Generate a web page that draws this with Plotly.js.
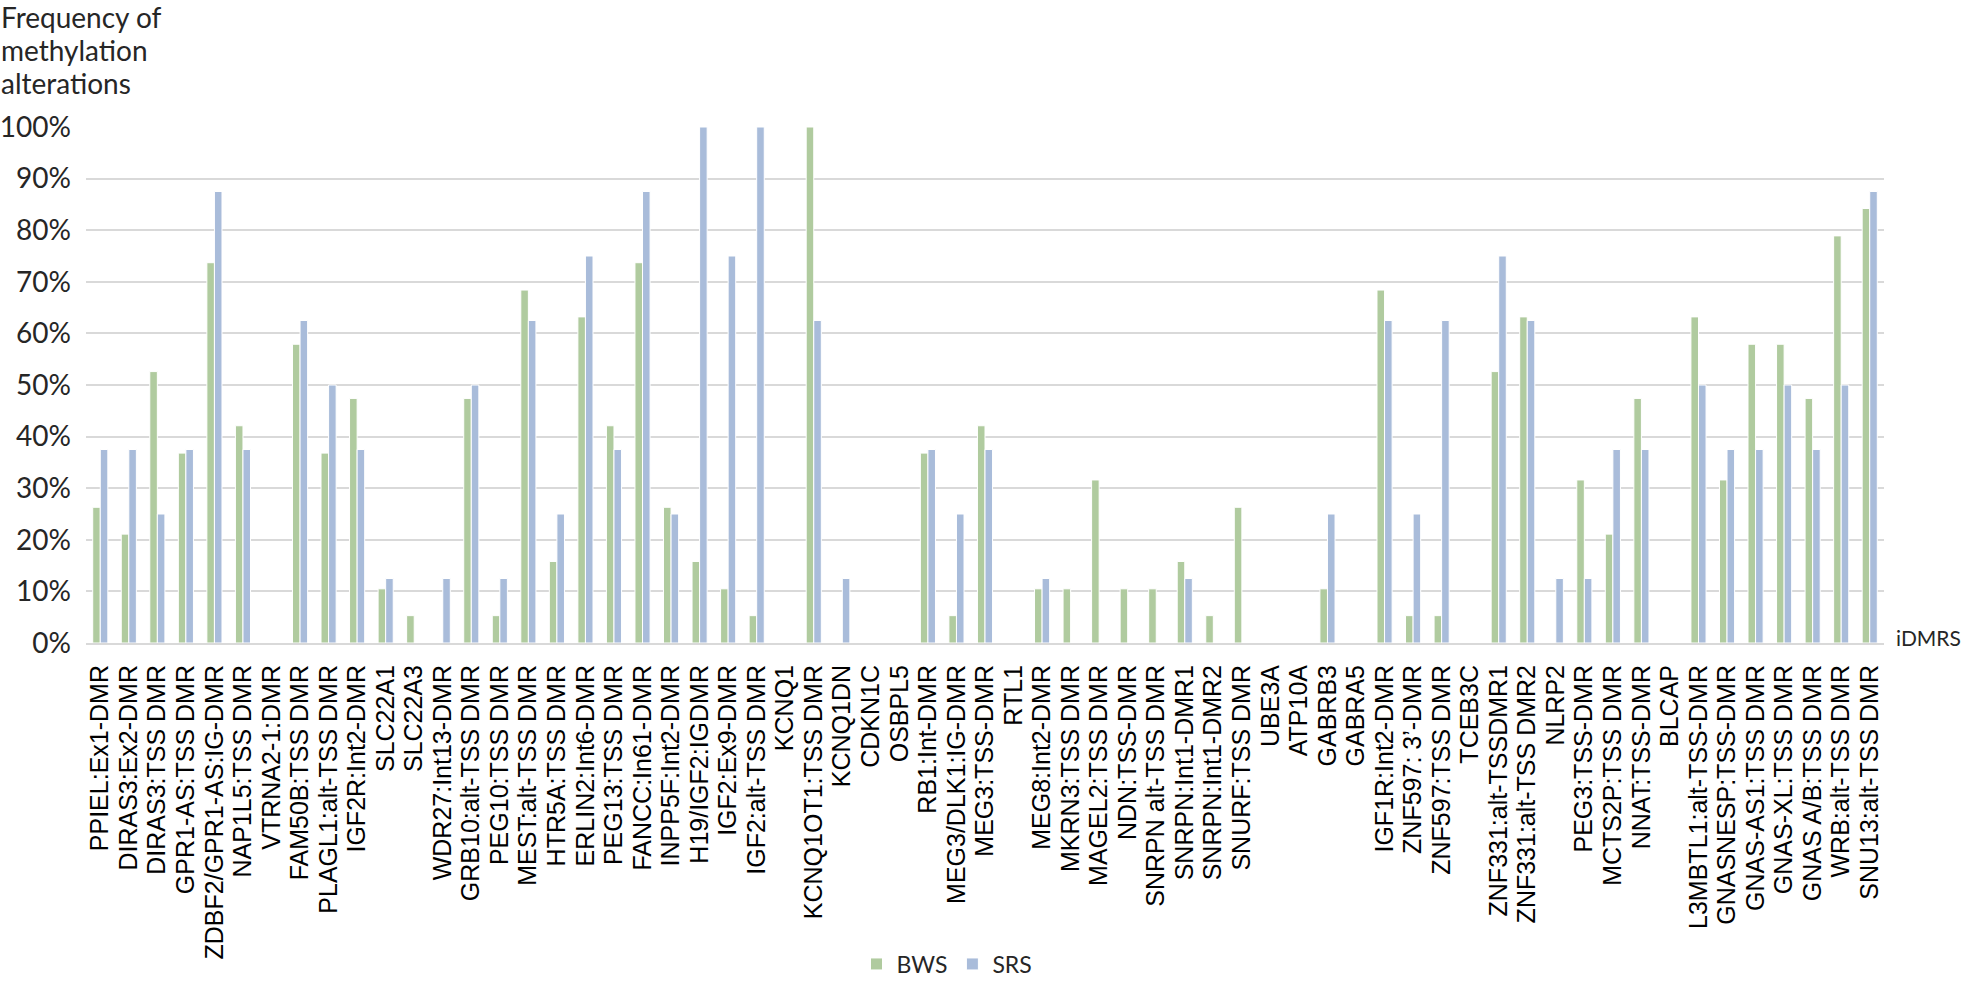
<!DOCTYPE html>
<html>
<head>
<meta charset="utf-8">
<script src="https://cdn.plot.ly/plotly-3.0.1.min.js"></script>
<style>
html,body{margin:0;padding:0;background:#fff;}
#chart{width:1961px;height:981px;}
</style>
</head>
<body>
<div id="chart"></div>
<script>
const categories = [
  "PPIEL:Ex1-DMR","DIRAS3:Ex2-DMR","DIRAS3:TSS DMR","GPR1-AS:TSS DMR","ZDBF2/GPR1-AS:IG-DMR",
  "NAP1L5:TSS DMR","VTRNA2-1:DMR","FAM50B:TSS DMR","PLAGL1:alt-TSS DMR","IGF2R:Int2-DMR",
  "SLC22A1","SLC22A3","WDR27:Int13-DMR","GRB10:alt-TSS DMR","PEG10:TSS DMR",
  "MEST:alt-TSS DMR","HTR5A:TSS DMR","ERLIN2:Int6-DMR","PEG13:TSS DMR","FANCC:In61-DMR",
  "INPP5F:Int2-DMR","H19/IGF2:IGDMR","IGF2:Ex9-DMR","IGF2:alt-TSS DMR","KCNQ1",
  "KCNQ1OT1:TSS DMR","KCNQ1DN","CDKN1C","OSBPL5","RB1:Int-DMR",
  "MEG3/DLK1:IG-DMR","MEG3:TSS-DMR","RTL1","MEG8:Int2-DMR","MKRN3:TSS DMR",
  "MAGEL2:TSS DMR","NDN:TSS-DMR","SNRPN alt-TSS DMR","SNRPN:Int1-DMR1","SNRPN:Int1-DMR2",
  "SNURF:TSS DMR","UBE3A","ATP10A","GABRB3","GABRA5",
  "IGF1R:Int2-DMR","ZNF597: 3\u2019-DMR","ZNF597:TSS DMR","TCEB3C","ZNF331:alt-TSSDMR1",
  "ZNF331:alt-TSS DMR2","NLRP2","PEG3:TSS-DMR","MCTS2P:TSS DMR","NNAT:TSS-DMR",
  "BLCAP","L3MBTL1:alt-TSS-DMR","GNASNESP:TSS-DMR","GNAS-AS1:TSS DMR","GNAS-XL:TSS DMR",
  "GNAS A/B:TSS DMR","WRB:alt-TSS DMR","SNU13:alt-TSS DMR"
];

const bws = [
  26.3,21.1,52.6,36.8,73.7, 42.1,0,57.9,36.8,47.4,
  10.5,5.3,0,47.4,5.3, 68.4,15.8,63.2,42.1,73.7,
  26.3,15.8,10.5,5.3,0, 100,0,0,0,36.8,
  5.3,42.1,0,10.5,10.5, 31.6,10.5,10.5,15.8,5.3,
  26.3,0,0,10.5,0, 68.4,5.3,5.3,0,52.6,
  63.2,0,31.6,21.1,47.4, 0,63.2,31.6,57.9,57.9,
  47.4,78.9,84.2
];

const srs = [
  37.5,37.5,25,37.5,87.5, 37.5,0,62.5,50,37.5,
  12.5,0,12.5,50,12.5, 62.5,25,75,37.5,87.5,
  25,100,75,100,0, 62.5,12.5,0,0,37.5,
  25,37.5,0,12.5,0, 0,0,0,12.5,0,
  0,0,0,25,0, 62.5,25,62.5,0,75,
  62.5,12.5,12.5,37.5,37.5, 0,50,37.5,37.5,50,
  37.5,50,87.5
];

const seriesNames = ["BWS","SRS"];
const yTitleLines = ["Frequency of","methylation","alterations"];
const xTitle = "iDMRS";

const W = 1961, H = 981;
const L = 86, R = 1884, T = 127, B = 643;
const pw = R - L, ph = B - T;
const uiFont = "Lato, 'Open Sans', sans-serif";

const traces = [
  {type:"bar", name:seriesNames[0], x:categories, y:bws,
   marker:{color:"#B0CB9F", line:{color:"#ffffff", width:1}}},
  {type:"bar", name:seriesNames[1], x:categories, y:srs,
   marker:{color:"#A9BCDA", line:{color:"#ffffff", width:1}}}
];

const titleY = [17, 50, 83];
const annotations = yTitleLines.map((t, i) => ({
  text:t, xref:"paper", yref:"paper", x:-L/pw, y:(B-titleY[i])/ph,
  xanchor:"left", yanchor:"middle", align:"left", showarrow:false, borderpad:0,
  font:{family:uiFont, size:28, color:"#262626"}
}));
annotations.push({text:xTitle, xref:"paper", yref:"paper", x:1+(1895-R)/pw, y:(B-637)/ph,
  xanchor:"left", yanchor:"middle", showarrow:false, borderpad:0,
  font:{family:uiFont, size:21, color:"#262626"}});

const layout = {
  width:W, height:H,
  paper_bgcolor:"#ffffff", plot_bgcolor:"#ffffff",
  margin:{l:L, r:W-R, t:T, b:H-B, pad:0},
  barmode:"group", bargap:0.47, bargroupgap:0,
  showlegend:true,
  legend:{orientation:"h", xref:"paper", yref:"container",
          x:(947-L)/pw, xanchor:"center", y:(H-964)/H, yanchor:"middle",
          font:{family:uiFont, size:23, color:"#262626"},
          itemwidth:30, traceorder:"normal"},
  xaxis:{type:"category", tickangle:-90, automargin:false,
         tickmode:"array", tickvals:categories, ticktext:categories,
         tickfont:{family:"'Liberation Sans', Arial, sans-serif", size:25, color:"#000"},
         showline:true, linecolor:"#D9D9D9", linewidth:2, ticks:"", showgrid:false,
         fixedrange:true, ticklabelstandoff:10},
  yaxis:{range:[0,100], dtick:10, ticksuffix:"%", automargin:false,
         tickfont:{family:uiFont, size:28, color:"#262626"},
         showgrid:true, gridcolor:"#D9D9D9", gridwidth:2, zeroline:false,
         showline:false, ticks:"", ticklabelstandoff:14, fixedrange:true},
  annotations:annotations
};

Plotly.newPlot("chart", traces, layout, {displayModeBar:false, staticPlot:true});
</script>
</body>
</html>
